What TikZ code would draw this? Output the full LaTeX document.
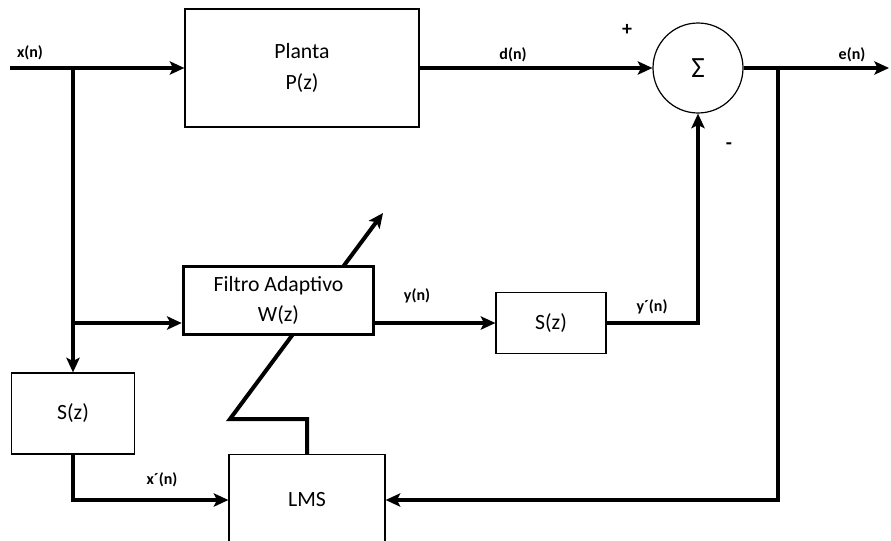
\documentclass[tikz,border=0pt]{standalone}
\usepackage{fontspec}
\setmainfont{Carlito}
\usetikzlibrary{arrows.meta,backgrounds}

\begin{document}
\begin{tikzpicture}[x=0.75pt, y=-0.75pt,
  block/.style={draw, line width=0.9pt, inner sep=0pt, align=center, fill=white,
    font=\fontsize{16.3}{23}\selectfont},
  sig/.style={line width=3pt, -{Stealth[length=11pt,width=10pt,inset=2.5pt]}},
  lbl/.style={font=\fontsize{12}{14}\selectfont\bfseries, inner sep=1pt}]
  \useasboundingbox (0,0) rectangle (891,540);
  \clip (0,0) rectangle (891,540);

  \node[block, minimum width=175.5pt, minimum height=88.5pt] (planta) at (302,68) {Planta\\P(z)};
  \node[draw, circle, line width=0.9pt, minimum size=67.5pt, inner sep=0pt,
    font=\fontsize{22}{26}\selectfont] (sum) at (698,68) {Σ};
  \node[block, line width=2.2pt, minimum width=143pt, minimum height=51.5pt] (filtro) at (278.5,300.5) {Filtro Adaptivo\\W(z)};
  \node[block, minimum width=82.5pt, minimum height=45.75pt] (sz2) at (551,323) {S(z)};
  \node[block, minimum width=92.25pt, minimum height=60.75pt] (sz1) at (73,413.5) {S(z)};
  \node[block, minimum width=117pt, minimum height=68.25pt] (lms) at (307,500) {LMS};

  \coordinate (xin) at (10,68);
  \coordinate (jx) at (73,68);
  \coordinate (je) at (778,68);
  \coordinate (eout) at (889,68);
  \coordinate (ta) at (230,419);
  \coordinate (ha) at (383,213);

  \draw[sig] (xin) -- (planta.west);
  \draw[sig] (jx) -- (sz1.north);
  \draw[sig] (jx |- sz2.west) -- (filtro.west |- sz2.west);
  \draw[sig] (planta.east) -- (sum.west);
  \draw[sig] (filtro.east |- sz2.west) -- (sz2.west);
  \draw[sig] (sz2.east) -| (sum.south);
  \draw[sig] (sum.east) -- (eout);
  \draw[sig] (je) |- (lms.east);
  \draw[sig] (sz1.south) |- (lms.west);
  \begin{scope}[on background layer]
    \draw[sig] (lms.north) |- (ta) -- (ha);
  \end{scope}

  \node[lbl] (lx) at (30,53) {x(n)};
  \node[lbl] (ld) at (513,55) {d(n)};
  \node[lbl] (le) at (852,55) {e(n)};
  \node[lbl] (ly) at (417,296) {y(n)};
  \node[lbl] (lyp) at (652,307) {y´(n)};
  \node[lbl] (lxp) at (162,480) {x´(n)};
  \node[lbl, font=\fontsize{15}{17}\selectfont\bfseries] (lplus) at (627,30) {+};
  \node[lbl, font=\fontsize{15}{17}\selectfont\bfseries] (lminus) at (729,146) {-};
\end{tikzpicture}
\end{document}
